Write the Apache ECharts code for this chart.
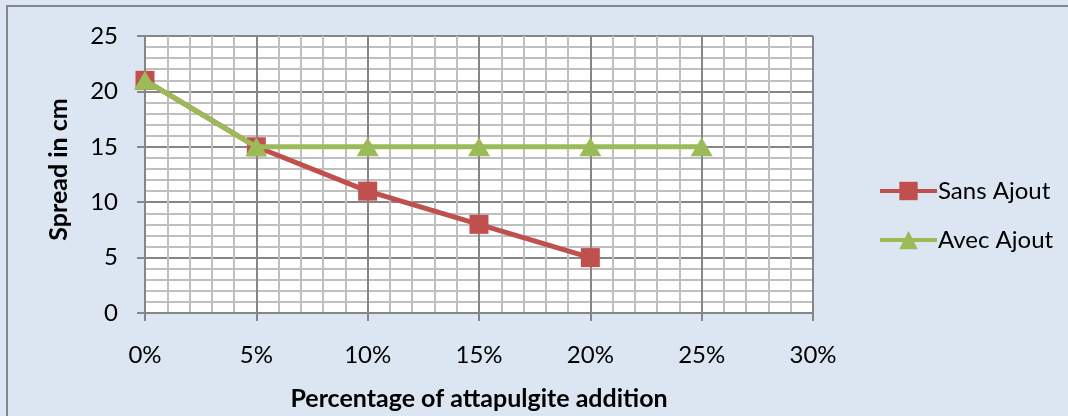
<!DOCTYPE html>
<html>
<head>
<meta charset="utf-8">
<script src="https://cdn.jsdelivr.net/npm/echarts@6/dist/echarts.min.js"></script>
<style>
  html, body { margin: 0; padding: 0; background: #dce6f2; }
  #chart { width: 1068px; height: 416px; }
</style>
</head>
<body>
<div id="chart"></div>
<script>
// Percentage of attapulgite added (x) and measured spread in cm (y)
const percentages = [0, 5, 10, 15, 20, 25];
const sansAjout = [21, 15, 11, 8, 5];
const avecAjout = [21, 15, 15, 15, 15, 15];
const seriesNames = ['Sans Ajout', 'Avec Ajout'];
const xTitle = 'Percentage of attapulgite addition';
const yTitle = 'Spread in cm';

const FONT = 'Lato, "Open Sans", sans-serif';
const RED = '#c0504d';
const GREEN = '#9bbb59';

const toPairs = (vals) => vals.map((v, i) => [percentages[i], v]);

const chart = echarts.init(document.getElementById('chart'));
chart.setOption({
  animation: false,
  backgroundColor: '#dce6f2',
  textStyle: { fontFamily: FONT, color: '#000' },
  graphic: [{
    type: 'rect',
    shape: { x: 7, y: 6, width: 1100, height: 440 },
    style: { fill: 'none', stroke: '#868686', lineWidth: 2 },
    silent: true,
    z: -1
  }],
  grid: { left: 145, right: 255, top: 36, bottom: 103, backgroundColor: '#fff', show: true, borderWidth: 0 },
  legend: {
    orient: 'vertical',
    left: 873,
    top: 172,
    itemWidth: 57,
    itemHeight: 23,
    itemGap: 21,
    lineStyle: { width: 4 },
    textStyle: { fontFamily: FONT, fontSize: 24, color: '#000', lineHeight: 28, padding: [0, 0, 0, -4] },
    data: seriesNames
  },
  xAxis: {
    type: 'value',
    min: 0, max: 30, interval: 5,
    name: xTitle,
    nameLocation: 'middle',
    nameGap: 73,
    nameTextStyle: { fontFamily: FONT, fontSize: 25, fontWeight: 'bold', color: '#000' },
    axisLine: { show: true, lineStyle: { color: '#868686', width: 2 } },
    axisTick: { show: true, length: 8, inside: false, lineStyle: { color: '#868686', width: 2 } },
    axisLabel: { formatter: '{value}%', fontSize: 24, color: '#000', margin: 30, fontFamily: FONT },
    splitLine: { show: true, lineStyle: { color: '#868686', width: 2 } },
    minorTick: { show: false, splitNumber: 5 },
    minorSplitLine: { show: true, lineStyle: { color: '#bfbfbf', width: 2 } }
  },
  yAxis: {
    type: 'value',
    min: 0, max: 25, interval: 5,
    name: yTitle,
    nameLocation: 'middle',
    nameGap: 74,
    nameTextStyle: { fontFamily: FONT, fontSize: 25, fontWeight: 'bold', color: '#000', padding: [0, 0, 0, 10] },
    axisLine: { show: true, lineStyle: { color: '#868686', width: 2 } },
    axisTick: { show: true, length: 8, lineStyle: { color: '#868686', width: 2 } },
    axisLabel: { fontSize: 24, color: '#000', margin: 27, fontFamily: FONT },
    splitLine: { show: true, lineStyle: { color: '#868686', width: 2 } },
    minorTick: { show: false, splitNumber: 5 },
    minorSplitLine: { show: true, lineStyle: { color: '#bfbfbf', width: 2 } }
  },
  series: [
    {
      name: seriesNames[0],
      type: 'line',
      data: toPairs(sansAjout),
      symbol: 'rect',
      symbolSize: 19,
      lineStyle: { color: RED, width: 5 },
      itemStyle: { color: RED },
      z: 2
    },
    {
      name: seriesNames[1],
      type: 'line',
      data: toPairs(avecAjout),
      symbol: 'triangle',
      symbolSize: [22, 19],
      lineStyle: { color: GREEN, width: 5 },
      itemStyle: { color: GREEN },
      z: 3
    }
  ]
});
</script>
</body>
</html>
